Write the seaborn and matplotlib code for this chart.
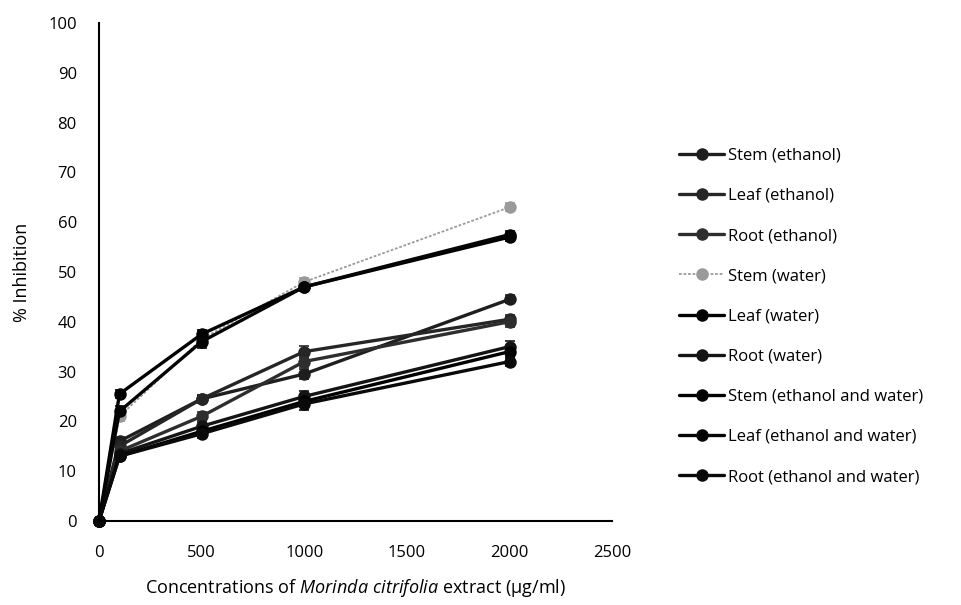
import numpy as np
import pandas as pd
import seaborn as sns
import matplotlib
matplotlib.use("Agg")
import matplotlib.pyplot as plt

# Concentrations tested (µg/ml)
concentrations = [0, 100, 500, 1000, 2000]

# Mean % inhibition for each extract
stem_ethanol = [0, 16.0, 24.5, 29.5, 44.5]
leaf_ethanol = [0, 15.0, 24.5, 34.0, 40.5]
root_ethanol = [0, 14.0, 21.0, 32.0, 40.0]
stem_water = [0, 21.0, 36.5, 48.0, 63.0]
leaf_water = [0, 25.5, 37.5, 47.0, 57.0]
root_water = [0, 13.5, 19.0, 25.0, 35.0]
stem_mix = [0, 13.0, 18.0, 24.0, 34.0]
leaf_mix = [0, 22.0, 36.0, 47.0, 57.5]
root_mix = [0, 13.0, 17.5, 23.5, 32.0]

# Standard deviations
sd_stem_ethanol = [0, 0.8, 0.8, 1.0, 0.8]
sd_leaf_ethanol = [0, 0.8, 0.8, 1.2, 0.8]
sd_root_ethanol = [0, 0.8, 0.8, 1.0, 1.0]
sd_stem_water = [0, 1.0, 1.0, 0.8, 0.8]
sd_leaf_water = [0, 0.8, 0.8, 0.8, 0.8]
sd_root_water = [0, 0.8, 0.8, 1.0, 1.2]
sd_stem_mix = [0, 0.8, 1.0, 1.0, 1.0]
sd_leaf_mix = [0, 1.0, 1.2, 0.8, 0.8]
sd_root_mix = [0, 0.8, 0.8, 1.2, 0.8]

series_names = [
    "Stem (ethanol)", "Leaf (ethanol)", "Root (ethanol)",
    "Stem (water)", "Leaf (water)", "Root (water)",
    "Stem (ethanol and water)", "Leaf (ethanol and water)", "Root (ethanol and water)",
]
means = [stem_ethanol, leaf_ethanol, root_ethanol, stem_water, leaf_water,
         root_water, stem_mix, leaf_mix, root_mix]
sds = [sd_stem_ethanol, sd_leaf_ethanol, sd_root_ethanol, sd_stem_water,
       sd_leaf_water, sd_root_water, sd_stem_mix, sd_leaf_mix, sd_root_mix]
colors = ["#1e1e1e", "#262626", "#2e2e2e", "#9a9a9a", "#000000",
          "#141414", "#000000", "#050505", "#0a0a0a"]

rows = []
for name, m, s in zip(series_names, means, sds):
    for c, v, e in zip(concentrations, m, s):
        rows.append({"Concentration": c, "Inhibition": v, "SD": e, "Extract": name})
df = pd.DataFrame(rows)

sns.set_theme(style="white")
plt.rcParams["font.family"] = ["Open Sans", "DejaVu Sans"]
plt.rcParams["mathtext.fontset"] = "custom"
plt.rcParams["mathtext.rm"] = "Open Sans"
plt.rcParams["mathtext.it"] = "Open Sans:italic"

fig = plt.figure(figsize=(9.61, 6.05), dpi=100)
ax = fig.add_axes([0.103, 0.139, 0.534, 0.823])

palette = dict(zip(series_names, colors))
sns.lineplot(data=df, x="Concentration", y="Inhibition", hue="Extract",
             hue_order=series_names, palette=palette, marker="o",
             markersize=9, linewidth=2.4, markeredgewidth=0,
             errorbar=None, ax=ax, legend=True)

# the aqueous stem extract is drawn as a thin dotted grey line
dotted = (0, (1.5, 1))
water_idx = series_names.index("Stem (water)")
ax.lines[water_idx].set_linewidth(1.3)
ax.lines[water_idx].set_linestyle(dotted)

for name, m, s in zip(series_names, means, sds):
    ax.errorbar(concentrations, m, yerr=s, fmt="none", ecolor=palette[name],
                elinewidth=1.2, capsize=3.5, capthick=1.2, zorder=1)

ax.set_xlim(0, 2500)
ax.set_ylim(0, 100)
ax.set_xticks(np.arange(0, 2501, 500))
ax.set_yticks(np.arange(0, 101, 10))
ax.tick_params(axis="both", length=0, labelsize=12, colors="black")
ax.tick_params(axis="x", pad=17)
ax.tick_params(axis="y", pad=16)
for side in ["top", "right"]:
    ax.spines[side].set_visible(False)
for side in ["left", "bottom"]:
    ax.spines[side].set_color("black")
    ax.spines[side].set_linewidth(1.5)
for line in ax.lines:
    line.set_clip_on(False)

ax.set_xlabel(r"Concentrations of $\it{Morinda\ citrifolia}$ extract (µg/ml)",
              fontsize=13, labelpad=12, color="black")
ax.set_ylabel("% Inhibition", fontsize=13, labelpad=12, color="black")

handles, labels = ax.get_legend_handles_labels()
for h in handles:
    if h.get_label() == "Stem (water)":
        h.set_linewidth(1.3)
        h.set_linestyle(dotted)
ax.legend_.remove()
fig.legend(handles, labels, loc="center left", bbox_to_anchor=(0.700, 0.477),
           frameon=False, fontsize=12, labelspacing=1.45, handlelength=2.7,
           handletextpad=0.2, borderaxespad=0, labelcolor="black")

fig.savefig("out.png", dpi=100, facecolor="white")
